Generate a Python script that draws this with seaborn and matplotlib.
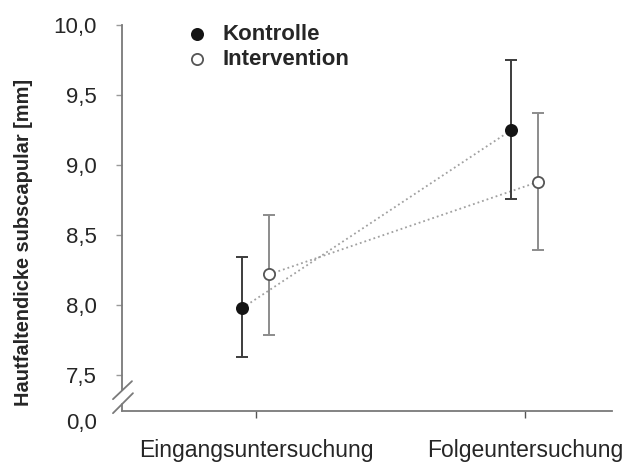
import pandas as pd
import numpy as np
import matplotlib
matplotlib.use('Agg')
import matplotlib.pyplot as plt
import seaborn as sns

# values (mean and error bar ends, mm)
conditions = ['Eingangsuntersuchung', 'Folgeuntersuchung']
groups = ['Kontrolle', 'Intervention']
kontrolle_mean = [7.98, 9.25]
kontrolle_low = [7.63, 8.76]
kontrolle_high = [8.34, 9.75]
intervention_mean = [8.22, 8.88]
intervention_low = [7.79, 8.39]
intervention_high = [8.64, 9.37]
ytick_values = [7.5, 8.0, 8.5, 9.0, 9.5, 10.0]

sns.set_theme(style='white')
plt.rcParams['font.family'] = ['Liberation Sans', 'DejaVu Sans']

rows = []
for g, m, lo, hi in [('Kontrolle', kontrolle_mean, kontrolle_low, kontrolle_high),
                     ('Intervention', intervention_mean, intervention_low, intervention_high)]:
    for i, c in enumerate(conditions):
        rows.append({'group': g, 'condition': c, 'idx': i, 'mean': m[i], 'low': lo[i], 'high': hi[i]})
df = pd.DataFrame(rows)
offset = {'Kontrolle': -0.05, 'Intervention': 0.05}
df['pos'] = df['idx'] + df['group'].map(offset)

fig = plt.figure(figsize=(6.32, 4.62), dpi=100)
ax = fig.add_axes([0.193, 0.110, 0.775, 0.836])

# dotted connecting lines
sns.lineplot(data=df, x='pos', y='mean', hue='group', palette=['#a0a0a0', '#a0a0a0'],
             linestyle=':', linewidth=1.3, legend=False, ax=ax, zorder=1)

err_col = {'Kontrolle': '#3c3c3c', 'Intervention': '#8c8c8c'}
face_col = {'Kontrolle': '#141414', 'Intervention': 'white'}
edge_col = {'Kontrolle': '#141414', 'Intervention': '#555555'}
for g in groups:
    sub = df[df['group'] == g]
    ax.errorbar(sub['pos'], sub['mean'],
                yerr=[sub['mean'] - sub['low'], sub['high'] - sub['mean']],
                fmt='none', ecolor=err_col[g], elinewidth=1.4, capsize=4, capthick=1.4, zorder=2)
    sns.scatterplot(data=sub, x='pos', y='mean', color=face_col[g], edgecolor=edge_col[g],
                    linewidth=1.3, s=65, label=g, ax=ax, zorder=3)

ax.set_xlim(-0.498, 1.323)
ax.set_ylim(7.243, 10.0)
ax.set_xticks(range(len(conditions)))
ax.set_xticklabels(conditions, fontsize=16.5)
ax.set_yticks(ytick_values)
ax.set_yticklabels([f'{v:.1f}'.replace('.', ',') for v in ytick_values], fontsize=16)
ax.set_xlabel('')
ax.set_ylabel('Hautfaltendicke subscapular [mm]', fontsize=14.4, fontweight='bold')
ax.yaxis.set_label_coords(-0.182, 0.438)

for s in ['top', 'right']:
    ax.spines[s].set_visible(False)
for s in ['left', 'bottom']:
    ax.spines[s].set_color('#7a7a7a')
    ax.spines[s].set_linewidth(1.3)
ax.spines['left'].set_bounds(7.393, 10.0)
ax.tick_params(axis='y', direction='out', length=4, width=1, color='#9a9a9a', left=True, pad=14)
ax.tick_params(axis='x', direction='out', length=5, width=1, color='#555555', bottom=True, pad=15)

# axis break marks
brk = dict(color='#7a7a7a', linewidth=1.3, transform=ax.transAxes, clip_on=False)
ax.plot([0, 0], [0, 0.018], **brk)
ax.plot([-0.0184, 0.0204], [0.0311, 0.0777], **brk)
ax.plot([-0.0184, 0.0224], [-0.0052, 0.0466], **brk)
ax.text(-0.051, -0.031, '0,0', transform=ax.transAxes, ha='right', va='center', fontsize=16)

leg = ax.legend(loc='upper left', bbox_to_anchor=(0.108, 1.025), frameon=False,
                prop={'weight': 'bold', 'size': 16}, handletextpad=0.55,
                labelspacing=0.15, borderaxespad=0, handlelength=1.2)

fig.savefig('out.png', dpi=100)
